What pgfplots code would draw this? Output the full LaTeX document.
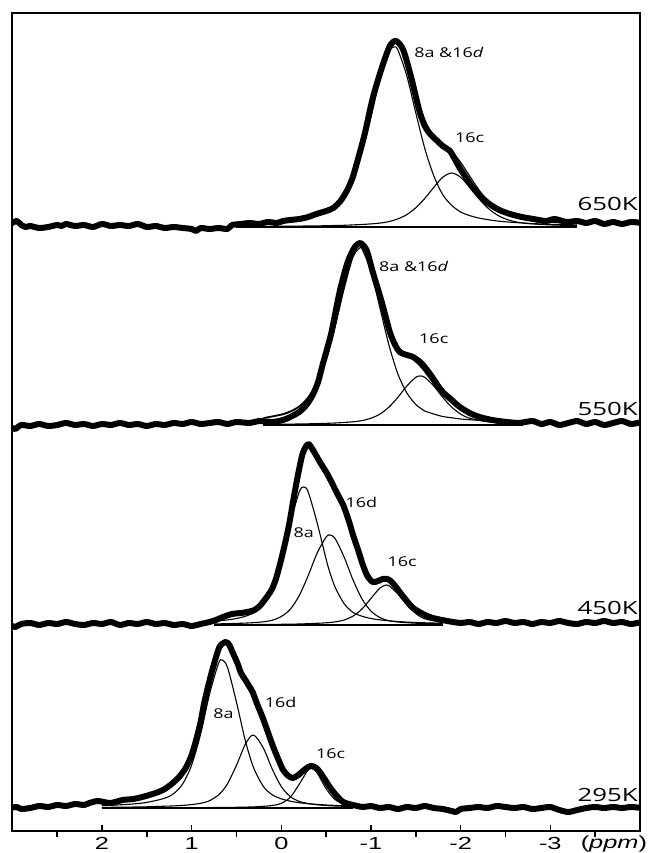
\documentclass[border=0pt]{standalone}
\usepackage{fontspec}
\usepackage{graphicx}
\usepackage{pgfplots}
\pgfplotsset{compat=1.18}
\newfontfamily\annfont{Open Sans}
\newfontfamily\tickfont{Liberation Sans}
\newcommand{\ann}[1]{\scalebox{1.33}[1]{\annfont\fontsize{13.5}{15}\selectfont #1}}
\newcommand{\temp}[1]{\scalebox{1.42}[1]{\annfont\fontsize{18.2}{20}\selectfont #1}}
\newcommand{\tk}[1]{\scalebox{1.45}[1]{\tickfont\fontsize{17.5}{19}\selectfont #1}}
\tikzset{
  expt/.style={black, line width=6pt, line join=round, line cap=round, smooth, tension=0.45},
  fitc/.style={black, line width=1.1pt, line join=round, smooth, tension=0.5},
  basel/.style={black, line width=1.1pt}
}
\begin{document}
\begin{tikzpicture}
\begin{axis}[
 scale only axis, width=627.7pt, height=818pt,
 xmin=-4, xmax=3, x dir=reverse, ymin=0, ymax=818,
 axis line style={line width=1.8pt},
 ytick=\empty,
 xtick={2,1,0,-1,-2,-3},
 xticklabels={\tk{2},\tk{1},\tk{0},\tk{-1},\tk{-2},\tk{-3}},
 minor xtick={2.5,1.5,0.5,-0.5,-1.5,-2.5,-3.5},
 xtick pos=bottom, tick align=inside,
 major tick length=6pt, minor tick length=-6pt,
 tick style={black, line width=1.5pt},
 xticklabel style={anchor=north, inner sep=0pt, yshift=-6.5pt},
 clip mode=individual,
]
% ================= 650K =================
\addplot[expt] coordinates {(3.02,607) (2.95,610) (2.9,606) (2.85,604) (2.8,605) (2.7,603) (2.6,604) (2.5,606) (2.45,605) (2.4,607) (2.3,605) (2.2,606) (2.1,604) (2.0,607) (1.9,605) (1.8,606) (1.7,605) (1.6,607) (1.5,604) (1.4,605) (1.3,603) (1.2,604) (1.1,603) (1.0,602) (0.95,600) (0.9,603) (0.8,602) (0.7,603) (0.6,602) (0.55,606) (0.45,607) (0.35,608) (0.25,607) (0.15,609) (0.05,608) (-0.02,610) (-0.1,611) (-0.2,612) (-0.3,614) (-0.39,617) (-0.5,620) (-0.58,623) (-0.66,630) (-0.73,640) (-0.79,652) (-0.84,667) (-0.93,697) (-1.02,733) (-1.12,763) (-1.21,785) (-1.28,790) (-1.36,781) (-1.45,753) (-1.54,720) (-1.60,705) (-1.66,697) (-1.74,690) (-1.80,685) (-1.88,680) (-1.94,671) (-1.99,663) (-2.07,652) (-2.14,643) (-2.23,634) (-2.32,627) (-2.43,621) (-2.55,617) (-2.68,614) (-2.81,612) (-2.95,610) (-3.05,612) (-3.18,609) (-3.3,610) (-3.4,608) (-3.5,610) (-3.6,607) (-3.7,609) (-3.8,607) (-3.9,609) (-4.02,608)};
\addplot[fitc] coordinates {(0.5,606.7) (0.2,607.9) (0,609.1) (-0.2,611.2) (-0.4,615) (-0.5,618.4) (-0.6,624.7) (-0.7,635.3) (-0.8,652.8) (-0.9,679) (-1.0,714) (-1.1,752) (-1.2,779) (-1.255,784) (-1.3,781) (-1.4,755) (-1.5,718) (-1.6,682.5) (-1.7,655.3) (-1.8,636.4) (-1.9,625.6) (-2.0,619) (-2.1,615.4) (-2.2,613) (-2.3,611.4) (-2.4,610.1) (-2.5,609.2) (-2.6,608.5) (-2.7,608) (-2.8,607.4) (-3.0,606.7) (-3.3,606.1)};
\addplot[fitc] coordinates {(0.5,604.5) (0.2,604.6) (0,604.7) (-0.2,604.9) (-0.4,605.1) (-0.5,605.3) (-0.6,605.5) (-0.7,605.7) (-0.8,606.1) (-0.9,606.5) (-1.0,607.1) (-1.1,607.9) (-1.2,609.4) (-1.3,612.1) (-1.4,616.4) (-1.5,623.2) (-1.6,632.6) (-1.7,643.6) (-1.8,653.7) (-1.9,658) (-2.0,653.7) (-2.1,643.6) (-2.2,632.6) (-2.3,623.2) (-2.4,616.4) (-2.5,612.1) (-2.6,609.4) (-2.7,607.9) (-2.8,607.1) (-3.0,606.1) (-3.3,605.3)};
\addplot[fitc] coordinates {(0.5,607.2) (0.2,608.5) (0,609.8) (-0.2,612.1) (-0.4,616.1) (-0.5,619.7) (-0.6,626.2) (-0.7,637) (-0.8,654.9) (-0.9,681.5) (-1.0,717.1) (-1.1,755.9) (-1.2,784.4) (-1.255,790.7) (-1.3,789.1) (-1.4,767.4) (-1.5,737.2) (-1.6,711.1) (-1.7,694.9) (-1.8,686.1) (-1.9,679.6) (-2.0,668.7) (-2.1,655) (-2.2,641.6) (-2.3,630.6) (-2.4,622.5) (-2.5,617.3) (-2.6,613.9) (-2.7,611.9) (-2.8,610.5) (-3.0,608.8) (-3.3,607.4)};
\addplot[basel] coordinates {(0.5,604) (-3.3,604)};
% ================= 550K =================
\addplot[expt] coordinates {(3.02,404) (2.97,402) (2.9,406) (2.8,405) (2.7,407) (2.6,405) (2.5,406) (2.4,408) (2.3,406) (2.2,407) (2.1,405) (2.0,407) (1.9,406) (1.8,408) (1.7,406) (1.6,407) (1.5,405) (1.4,407) (1.3,406) (1.2,408) (1.1,407) (1.0,409) (0.9,407) (0.8,408) (0.7,409) (0.6,407) (0.5,409) (0.35,408) (0.25,410) (0.1,409) (-0.02,411) (-0.1,414) (-0.2,419) (-0.28,426) (-0.35,436) (-0.41,449) (-0.46,466) (-0.51,482) (-0.56,499) (-0.65,539) (-0.74,569) (-0.82,584) (-0.88,588) (-0.95,581) (-1.02,559) (-1.12,529) (-1.21,499) (-1.27,486) (-1.32,479) (-1.40,476) (-1.47,474) (-1.54,469) (-1.60,463) (-1.66,456) (-1.73,447) (-1.80,439) (-1.90,431) (-1.99,424) (-2.1,418) (-2.21,414) (-2.35,411) (-2.51,409) (-2.65,408) (-2.8,410) (-2.9,407) (-3.0,409) (-3.1,406) (-3.2,408) (-3.3,410) (-3.4,407) (-3.5,409) (-3.6,406) (-3.7,408) (-3.8,410) (-3.9,407) (-4.02,409)};
\addplot[fitc] coordinates {(0.2,412.6) (0,416) (-0.1,419) (-0.2,424) (-0.3,433) (-0.4,448) (-0.5,471) (-0.6,504) (-0.7,542) (-0.8,574) (-0.875,583) (-0.9,582) (-1.0,560) (-1.1,523) (-1.2,486) (-1.3,457) (-1.4,438) (-1.5,426.5) (-1.55,423) (-1.6,420) (-1.7,417) (-1.8,414.5) (-1.9,413.2) (-2.0,412) (-2.1,411.3) (-2.3,410) (-2.5,409.2) (-2.7,408.5)};
\addplot[fitc] coordinates {(0.2,406.6) (0,406.8) (-0.2,407) (-0.4,407.4) (-0.6,408) (-0.8,409.2) (-0.9,410.4) (-1.0,412.8) (-1.1,416.9) (-1.2,423.9) (-1.3,433.7) (-1.4,445) (-1.5,453.7) (-1.55,455) (-1.6,453.7) (-1.7,445) (-1.8,433.7) (-1.9,423.9) (-2.0,416.9) (-2.1,412.8) (-2.3,409.2) (-2.5,408) (-2.7,407.4)};
\addplot[fitc] coordinates {(0.2,413.2) (0,416.8) (-0.1,419.9) (-0.2,425) (-0.3,434.2) (-0.4,449.4) (-0.5,472.6) (-0.6,506) (-0.7,544.4) (-0.8,577.2) (-0.875,587) (-0.9,586.4) (-1.0,566.8) (-1.1,533.9) (-1.2,503.9) (-1.3,484.7) (-1.4,477) (-1.5,474.2) (-1.55,472) (-1.6,467.7) (-1.7,456) (-1.8,442.2) (-1.9,431.1) (-2.0,422.9) (-2.1,418.1) (-2.3,413.2) (-2.5,411.2) (-2.7,409.9)};
\addplot[basel] coordinates {(0.2,406) (-2.7,406)};
% ================= 450K =================
\addplot[expt] coordinates {(3.02,206) (2.97,204) (2.9,207) (2.8,208) (2.7,206) (2.6,208) (2.5,207) (2.4,209) (2.3,207) (2.2,206) (2.1,208) (2.0,207) (1.9,209) (1.8,206) (1.7,208) (1.6,207) (1.5,209) (1.4,207) (1.3,208) (1.2,206) (1.1,207) (1.0,205) (0.9,207) (0.8,209) (0.73,211) (0.65,214) (0.55,217) (0.45,218) (0.38,219) (0.30,221) (0.24,225) (0.17,233) (0.11,241) (0.06,252) (0.0,272) (-0.05,291) (-0.09,308) (-0.14,334) (-0.19,358) (-0.24,378) (-0.30,387) (-0.36,380) (-0.43,369) (-0.50,359) (-0.56,349) (-0.62,338) (-0.69,326) (-0.75,311) (-0.80,296) (-0.86,280) (-0.91,266) (-0.96,255) (-1.02,249) (-1.08,250) (-1.13,252) (-1.18,252) (-1.22,250) (-1.27,245) (-1.32,239) (-1.40,230) (-1.47,223) (-1.58,217) (-1.69,213) (-1.85,210) (-2.0,208) (-2.1,209) (-2.2,207) (-2.3,209) (-2.4,208) (-2.5,210) (-2.6,208) (-2.7,209) (-2.8,207) (-2.9,209) (-3.0,208) (-3.1,210) (-3.2,208) (-3.3,207) (-3.4,209) (-3.5,208) (-3.6,210) (-3.7,208) (-3.8,209) (-3.9,207) (-4.02,209)};
\addplot[fitc] coordinates {(0.75,209.7) (0.6,211.1) (0.5,212.5) (0.4,214.8) (0.3,218.6) (0.2,227.4) (0.1,243.8) (0.0,271.7) (-0.1,308) (-0.2,339) (-0.25,344) (-0.3,339) (-0.4,308) (-0.5,271.7) (-0.54,259) (-0.6,243.8) (-0.7,227.4) (-0.8,218.6) (-0.9,214.8) (-1.0,212.5) (-1.1,211.1) (-1.2,210.2) (-1.3,209.5) (-1.4,208.9) (-1.5,208.5) (-1.6,208.2) (-1.8,207.7)};
\addplot[fitc] coordinates {(0.75,207.1) (0.6,207.3) (0.5,207.6) (0.4,207.9) (0.3,208.4) (0.2,209.2) (0.1,210.8) (0.0,214.5) (-0.1,221.8) (-0.2,235.4) (-0.3,255.5) (-0.4,278) (-0.5,294) (-0.54,296) (-0.6,292.4) (-0.7,274) (-0.8,251) (-0.9,232) (-1.0,219.9) (-1.1,213.4) (-1.2,210.3) (-1.3,209) (-1.4,208.3) (-1.5,207.8) (-1.6,207.5) (-1.8,207.1)};
\addplot[fitc] coordinates {(0.75,206.3) (0.4,206.4) (0.2,206.5) (0.0,206.7) (-0.2,207) (-0.4,207.7) (-0.5,208.2) (-0.6,209.1) (-0.7,211) (-0.8,214.9) (-0.9,222) (-1.0,232.6) (-1.1,243) (-1.17,246) (-1.2,245.4) (-1.3,237) (-1.4,226) (-1.5,217.4) (-1.6,212.2) (-1.8,208.5)};
\addplot[basel] coordinates {(0.75,206) (-1.8,206)};
% ================= 295K =================
\addplot[expt] coordinates {(3.02,23) (2.95,24) (2.9,22) (2.8,23) (2.7,25) (2.6,24) (2.5,26) (2.4,25) (2.3,27) (2.2,26) (2.14,28) (2.05,30) (1.98,29) (1.9,28) (1.77,31) (1.65,32) (1.55,34) (1.40,38) (1.30,42) (1.21,48) (1.13,55) (1.06,64) (1.0,76) (0.95,91) (0.90,109) (0.86,128) (0.81,147) (0.76,164) (0.69,184) (0.62,189) (0.58,186) (0.54,178) (0.49,168) (0.45,158) (0.40,151) (0.36,145) (0.32,139) (0.27,127) (0.21,114) (0.15,99) (0.09,84) (0.03,71) (-0.02,61) (-0.08,55) (-0.13,53) (-0.19,56) (-0.24,60) (-0.30,64) (-0.34,65) (-0.39,63) (-0.43,59) (-0.49,51) (-0.54,44) (-0.61,36) (-0.69,29) (-0.8,26) (-0.91,24) (-1.0,25) (-1.1,23) (-1.2,24) (-1.3,22) (-1.4,24) (-1.5,23) (-1.6,25) (-1.7,23) (-1.8,22) (-1.9,20) (-1.95,19) (-2.0,22) (-2.1,23) (-2.2,24) (-2.3,23) (-2.4,25) (-2.5,24) (-2.6,23) (-2.7,24) (-2.8,22) (-2.9,23) (-3.0,24) (-3.1,21) (-3.2,19) (-3.3,21) (-3.4,23) (-3.5,24) (-3.6,23) (-3.7,24) (-3.8,23) (-3.9,24) (-4.02,23)};
\addplot[fitc] coordinates {(2.0,25.3) (1.7,26.7) (1.5,28.6) (1.3,32.8) (1.2,37.4) (1.1,47.1) (1.0,66) (0.9,97) (0.8,137) (0.7,167.6) (0.66,171) (0.6,163.6) (0.5,128.8) (0.4,89.9) (0.31,63.6) (0.2,44.5) (0.1,36.2) (0.0,32.2) (-0.1,29.8) (-0.2,28.3) (-0.3,27.3) (-0.4,26.6) (-0.5,26) (-0.6,25.6) (-0.7,25.2) (-0.8,24.9)};
\addplot[fitc] coordinates {(2.0,23.6) (1.7,23.9) (1.5,24.2) (1.3,24.8) (1.2,25.1) (1.1,25.6) (1.0,26.4) (0.9,27.7) (0.8,30.3) (0.7,36) (0.66,39.7) (0.6,47.3) (0.5,65.7) (0.4,86.9) (0.31,96) (0.2,82.9) (0.1,61.7) (0.0,44.4) (-0.1,34.4) (-0.2,29.6) (-0.3,27.5) (-0.4,26.2) (-0.5,25.5) (-0.6,25) (-0.7,24.7) (-0.8,24.4)};
\addplot[fitc] coordinates {(2.0,23.1) (1.5,23.2) (1.0,23.3) (0.8,23.4) (0.6,23.6) (0.5,23.7) (0.4,23.9) (0.31,24.1) (0.2,24.7) (0.1,25.5) (0.0,27.7) (-0.1,33.8) (-0.2,46.8) (-0.3,61.5) (-0.335,63) (-0.4,58) (-0.5,42.3) (-0.6,31.4) (-0.7,26.9) (-0.8,25.2)};
\addplot[basel] coordinates {(2.0,23) (-0.8,23)};
% ================= labels =================
\node at (axis cs:-1.869,779) {\ann{8a \&16\textit{d}}};
\node at (axis cs:-2.10,693) {\ann{16c}};
\node at (axis cs:-1.477,565) {\ann{8a \&16\textit{d}}};
\node at (axis cs:-1.70,492) {\ann{16c}};
\node at (axis cs:-0.893,329) {\ann{16d}};
\node at (axis cs:-0.249,298) {\ann{8a}};
\node at (axis cs:-1.348,269) {\ann{16c}};
\node at (axis cs:0.644,117) {\ann{8a}};
\node at (axis cs:0.008,129) {\ann{16d}};
\node at (axis cs:-0.55,77) {\ann{16c}};
\node[anchor=east, inner sep=0pt] at (axis cs:-3.977,627) {\temp{650K}};
\node[anchor=east, inner sep=0pt] at (axis cs:-3.977,422) {\temp{550K}};
\node[anchor=east, inner sep=0pt] at (axis cs:-3.977,223) {\temp{450K}};
\node[anchor=east, inner sep=0pt] at (axis cs:-3.977,36) {\temp{295K}};
\node[anchor=base, inner sep=0pt] at (axis cs:-3.709,-17) {\tk{(\textit{ppm})}};
\end{axis}
\path (current axis.south west) ++(-12.3pt,-22pt) coordinate (BL);
\path (current axis.north east) ++(9pt,13pt) coordinate (TR);
\path (BL) rectangle (TR);
\end{tikzpicture}
\end{document}
